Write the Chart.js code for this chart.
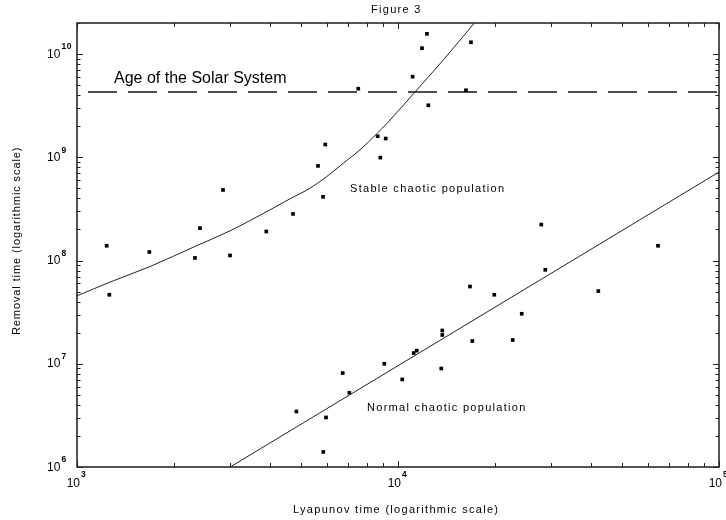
<!DOCTYPE html>
<html>
<head>
<meta charset="utf-8">
<script src="https://cdn.jsdelivr.net/npm/chart.js@4/dist/chart.umd.min.js"></script>
<style>
html,body{margin:0;padding:0;background:#fff;}
#wrap{width:726px;height:520px;}
</style>
</head>
<body>
<div id="wrap"><canvas id="c" width="726" height="520"></canvas></div>
<script>
// ---- data ----
const stableX = [1237, 1261, 1680, 2331, 2416, 2850, 2997, 3888, 4709, 5634, 5840, 5936, 7520, 8645, 8808, 9156, 11110, 11880, 12310, 12430, 16280, 16880];
const stableY = [1.39e8, 4.66e7, 1.21e8, 1.06e8, 2.06e8, 4.83e8, 1.12e8, 1.91e8, 2.83e8, 8.26e8, 4.14e8, 1.33e9, 4.62e9, 1.60e9, 9.93e8, 1.52e9, 6.04e9, 1.14e10, 1.57e10, 3.19e9, 4.46e9, 1.30e10];

const normalX = [4824, 5851, 5967, 6726, 7053, 9064, 10310, 11190, 11440, 13640, 13740, 13740, 16760, 17040, 19950, 22770, 24290, 27950, 28760, 42070, 64560];
const normalY = [3.45e6, 1.40e6, 3.02e6, 8.13e6, 5.24e6, 1.0e7, 7.05e6, 1.27e7, 1.34e7, 9.0e6, 2.10e7, 1.90e7, 5.60e7, 1.66e7, 4.66e7, 1.70e7, 3.05e7, 2.23e8, 8.13e7, 5.06e7, 1.39e8];

const stableCurveX = [1000, 1267, 1688, 2331, 2997, 3993, 4608, 5318, 5997, 6755, 7615, 8582, 9329, 11300, 13840, 17300];
const stableCurveY = [4.55e7, 6.18e7, 8.75e7, 1.37e8, 1.94e8, 3.10e8, 3.96e8, 5.02e8, 6.50e8, 8.77e8, 1.18e9, 1.69e9, 2.20e9, 4.30e9, 8.77e9, 2.0e10];

const normalFitX = [3000, 100000];
const normalFitY = [1.0e6, 7.2e8];

const ageX = [1000, 100000];
const ageY = [4.3e9, 4.3e9];

const xMajorTicks = [1e3, 1e4, 1e5];
const xTickExponents = ['3', '4', '5'];
const xMinorTicks = [2e3, 3e3, 4e3, 5e3, 6e3, 7e3, 8e3, 9e3, 2e4, 3e4, 4e4, 5e4, 6e4, 7e4, 8e4, 9e4];

const yMajorTicks = [1e6, 1e7, 1e8, 1e9, 1e10];
const yTickExponents = ['6', '7', '8', '9', '10'];
const yMinorTicks = [2e6, 3e6, 4e6, 5e6, 6e6, 7e6, 8e6, 9e6, 2e7, 3e7, 4e7, 5e7, 6e7, 7e7, 8e7, 9e7,
                     2e8, 3e8, 4e8, 5e8, 6e8, 7e8, 8e8, 9e8, 2e9, 3e9, 4e9, 5e9, 6e9, 7e9, 8e9, 9e9, 2e10];

const tickBase = '10';
const figureTitle = 'Figure 3';
const xTitle = 'Lyapunov time (logarithmic scale)';
const yTitle = 'Removal time (logarithmic scale)';
const ageLabel = 'Age of the Solar System';
const stableLabel = 'Stable chaotic population';
const normalLabel = 'Normal chaotic population';

// ---- helpers ----
const zip = (xs, ys) => xs.map((x, i) => ({ x: x, y: ys[i] }));
const FONT = '"Liberation Sans", Arial, Helvetica, sans-serif';

const decor = {
  id: 'decor',
  afterDatasetsDraw(chart) {
    const { ctx, chartArea: a, scales: { x, y } } = chart;
    ctx.save();
    // inward tick marks on all four sides
    ctx.strokeStyle = '#222';
    ctx.lineWidth = 1;
    ctx.beginPath();
    const xt = (vals, len) => vals.forEach(v => {
      const p = Math.round(x.getPixelForValue(v)) + 0.5;
      ctx.moveTo(p, a.bottom); ctx.lineTo(p, a.bottom - len);
      ctx.moveTo(p, a.top); ctx.lineTo(p, a.top + len);
    });
    const yt = (vals, len) => vals.forEach(v => {
      const p = Math.round(y.getPixelForValue(v)) + 0.5;
      ctx.moveTo(a.left, p); ctx.lineTo(a.left + len, p);
      ctx.moveTo(a.right, p); ctx.lineTo(a.right - len, p);
    });
    xt(xMajorTicks, 6); xt(xMinorTicks, 4);
    yt(yMajorTicks, 6); yt(yMinorTicks, 3.5);
    ctx.stroke();
    // frame
    ctx.lineWidth = 1.6;
    ctx.strokeStyle = '#2a2a2a';
    ctx.strokeRect(a.left, a.top, a.right - a.left, a.bottom - a.top);

    ctx.fillStyle = '#000';
    ctx.textBaseline = 'alphabetic';
    ctx.letterSpacing = '0px';

    // tick labels: 10 with raised exponent
    const baseFont = '12px ' + FONT;
    const expFont = 'bold 8.5px ' + FONT;
    xMajorTicks.forEach((v, i) => {
      const p = x.getPixelForValue(v);
      ctx.font = baseFont; ctx.textAlign = 'right';
      ctx.fillText(tickBase, p + 3, a.bottom + 19.5);
      ctx.font = expFont; ctx.textAlign = 'left';
      ctx.fillText(xTickExponents[i], p + 4, a.bottom + 10);
    });
    yMajorTicks.forEach((v, i) => {
      const p = y.getPixelForValue(v);
      ctx.font = baseFont; ctx.textAlign = 'left';
      ctx.fillText(tickBase, 47, p + 3.5);
      ctx.font = expFont;
      ctx.letterSpacing = '0.5px';
      ctx.fillText(yTickExponents[i], 61.5, p - 4.8);
      ctx.letterSpacing = '0px';
    });

    // annotations
    ctx.textAlign = 'left';
    ctx.font = '16px ' + FONT;
    ctx.fillText(ageLabel, 114, 82.5);

    ctx.font = '11px ' + FONT;
    ctx.letterSpacing = '1.3px';
    ctx.fillText(figureTitle, 371, 12.5);
    ctx.fillText(stableLabel, 350, 192);
    ctx.fillText(normalLabel, 367, 411);
    ctx.fillText(xTitle, 293, 513);

    ctx.letterSpacing = '0.9px';
    ctx.translate(20, 335);
    ctx.rotate(-Math.PI / 2);
    ctx.fillText(yTitle, 0, 0);
    ctx.restore();
  }
};

const lineStyle = { showLine: true, pointRadius: 0, borderColor: '#222', borderWidth: 1, fill: false };
const pointStyle = { showLine: false, pointStyle: 'rect', pointRadius: 2.6, pointBorderWidth: 0, backgroundColor: '#000', borderColor: '#000' };

new Chart(document.getElementById('c'), {
  type: 'scatter',
  data: {
    datasets: [
      Object.assign({ label: 'Stable fit', data: zip(stableCurveX, stableCurveY), cubicInterpolationMode: 'monotone' }, lineStyle),
      Object.assign({ label: 'Normal fit', data: zip(normalFitX, normalFitY) }, lineStyle),
      Object.assign({ label: 'Age of the Solar System', data: zip(ageX, ageY) }, lineStyle, { borderColor: '#111', borderWidth: 1.5, borderDash: [29, 11], borderDashOffset: 29 }),
      Object.assign({ label: 'Stable chaotic population', data: zip(stableX, stableY) }, pointStyle),
      Object.assign({ label: 'Normal chaotic population', data: zip(normalX, normalY) }, pointStyle)
    ]
  },
  options: {
    responsive: false,
    animation: false,
    events: [],
    layout: { padding: { top: 23, right: 7, bottom: 0, left: 0 } },
    plugins: { legend: { display: false }, tooltip: { enabled: false }, title: { display: false } },
    scales: {
      x: {
        type: 'logarithmic', min: 1e3, max: 1e5, bounds: 'data',
        grid: { display: false, drawTicks: false },
        border: { display: false },
        afterBuildTicks: s => { s.ticks = xMajorTicks.map(v => ({ value: v })); },
        afterFit: s => { s.height = 53; s.paddingLeft = 0; s.paddingRight = 0; },
        ticks: { display: false }
      },
      y: {
        type: 'logarithmic', min: 1e6, max: 2e10, bounds: 'data',
        grid: { display: false, drawTicks: false },
        border: { display: false },
        afterBuildTicks: s => { s.ticks = yMajorTicks.map(v => ({ value: v })); },
        afterFit: s => { s.width = 77; s.paddingTop = 0; s.paddingBottom = 0; },
        ticks: { display: false }
      }
    }
  },
  plugins: [decor]
});
</script>
</body>
</html>
